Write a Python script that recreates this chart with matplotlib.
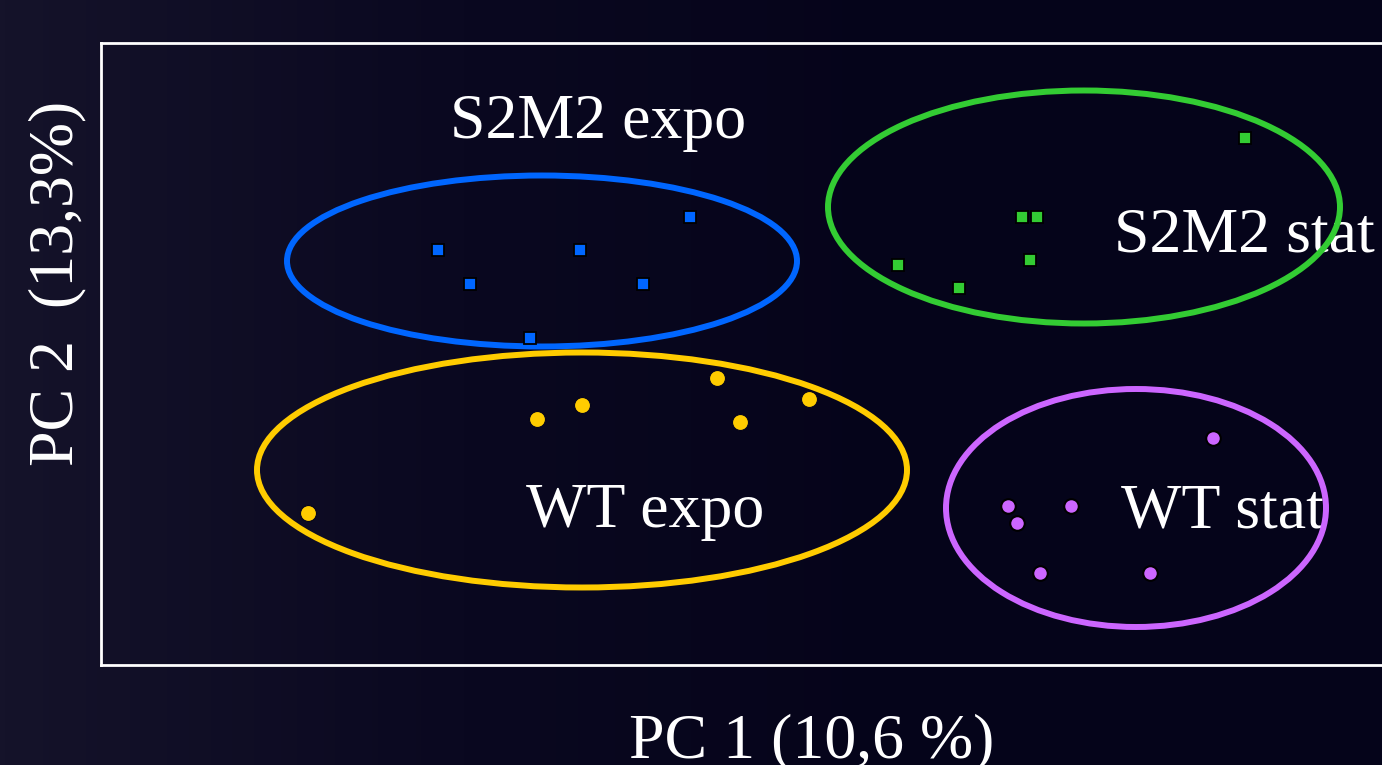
import matplotlib as mpl
mpl.use('Agg')

import numpy as np
import matplotlib.pyplot as plt
from matplotlib.patches import Ellipse

plt.rcParams['font.family'] = ['Liberation Serif', 'DejaVu Serif']

# scores (PC1, PC2)
s2m2_expo_x = [-5.24, -4.6, -2.4, -1.14, -0.2, -3.4]
s2m2_expo_y = [2.08, 1.4, 2.08, 1.4, 2.74, 0.32]
s2m2_stat_x = [3.96, 5.18, 6.44, 6.74, 6.6, 10.9]
s2m2_stat_y = [1.78, 1.32, 2.74, 2.74, 1.88, 4.32]
wt_expo_x = [-7.84, -3.26, -2.36, 0.34, 0.8, 2.18]
wt_expo_y = [-3.18, -1.3, -1.02, -0.48, -1.36, -0.9]
wt_stat_x = [6.16, 6.34, 7.42, 6.8, 9.0, 10.26]
wt_stat_y = [-3.04, -3.38, -3.04, -4.38, -4.38, -1.68]

# group ellipses: centre x, centre y, width, height
ell_s2m2_expo = (-3.16, 1.86, 10.2, 3.42)
ell_s2m2_stat = (7.68, 2.94, 10.24, 4.66)
ell_wt_expo = (-2.36, -2.32, 13.0, 4.7)
ell_wt_stat = (8.72, -3.08, 7.6, 4.76)

group_names = ['S2M2 expo', 'S2M2 stat', 'WT expo', 'WT stat']
label_x = [-2.04, 10.88, -1.1, 10.44]
label_y = [4.62, 2.34, -3.16, -3.16]

fig = plt.figure(figsize=(13.82, 7.65), dpi=100)

# dark slide background, a bit lighter on the left
bg = fig.add_axes([0, 0, 1, 1], zorder=-10)
grad = np.linspace(0, 1, 256)[None, :]
bg.imshow(grad, aspect='auto', cmap=mpl.colors.LinearSegmentedColormap.from_list(
    'bg', ['#15132a', '#0a0820', '#05041a', '#05041a']), extent=[0, 1, 0, 1])
bg.axis('off')

ax = fig.add_axes([101 / 1382, 100 / 765, 1299 / 1382, 622 / 765])
ax.set_facecolor('none')
ax.set_xlim(-11.98, 14.0)
ax.set_ylim(-6.22, 6.22)
ax.set_xticks([])
ax.set_yticks([])
for sp in ax.spines.values():
    sp.set_color('white')
    sp.set_linewidth(2)

for (cx, cy, w, h), col in zip([ell_s2m2_expo, ell_s2m2_stat, ell_wt_expo, ell_wt_stat],
                               ['#0066ff', '#33cc33', '#ffcc00', '#cc66ff']):
    ax.add_patch(Ellipse((cx, cy), w, h, fill=False, edgecolor=col, linewidth=4.3, zorder=3))

ax.plot(s2m2_expo_x, s2m2_expo_y, 's', color='#0066ff', markersize=8,
        markeredgecolor='black', markeredgewidth=1.3, zorder=4)
ax.plot(s2m2_stat_x, s2m2_stat_y, 's', color='#33cc33', markersize=8,
        markeredgecolor='black', markeredgewidth=1.3, zorder=4)
ax.plot(wt_expo_x, wt_expo_y, 'o', color='#ffcc00', markersize=11.5,
        markeredgecolor='#05041a', markeredgewidth=0.8, zorder=4)
ax.plot(wt_stat_x, wt_stat_y, 'o', color='#cc66ff', markersize=10.5,
        markeredgecolor='black', markeredgewidth=1.5, zorder=4)

for name, tx, ty in zip(group_names, label_x, label_y):
    ax.text(tx, ty, name, color='white', fontsize=46, ha='center', va='center', zorder=2)

fig.text(812 / 1382, 1 - 742 / 765, 'PC 1 (10,6 %)', color='white', fontsize=46,
         ha='center', va='center')
fig.text(57 / 1382, 1 - 283 / 765, 'PC 2  (13,3%)', color='white', fontsize=46,
         ha='center', va='center', rotation=90)

fig.savefig('out.png', dpi=100, facecolor='#05041a')
